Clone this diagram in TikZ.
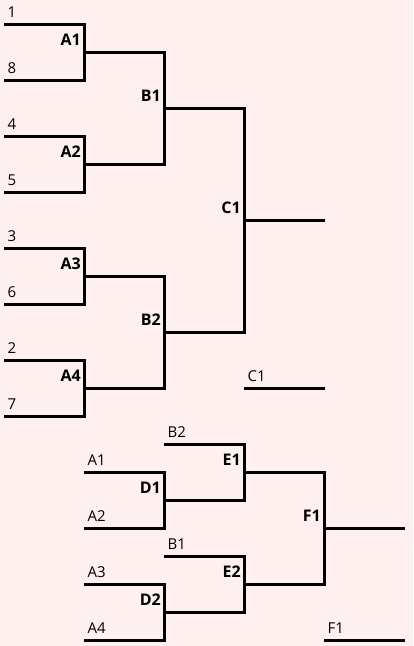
\documentclass[tikz,border=0pt]{standalone}
\usepackage{fontspec}
\setmainfont{Open Sans}
\usepackage{tikz}
\usetikzlibrary{positioning}
\definecolor{bgpink}{HTML}{FFF0F0}
\tikzset{
  seed/.style={font=\fontsize{15}{17}\selectfont, inner sep=0pt, anchor=base west, xshift=3.5pt, yshift=7pt},
  match/.style={font=\fontsize{16}{18}\selectfont\bfseries, inner sep=0pt, anchor=base east, xshift=-3pt, yshift=7pt},
  bracket/.style={line width=3pt, line join=miter}
}
\begin{document}
\begin{tikzpicture}[x=1pt, y=-1pt]

  %% Background
  \fill[bgpink] (0,0) rectangle (413,646);
  \useasboundingbox (0,0) rectangle (413,646);

  %% ── Upper bracket ────────────────────────────────────────────
  %% Seed line starts with their numbers
  \foreach \y/\n in {24/1, 80/8, 136/4, 192/5, 248/3, 304/6, 360/2, 416/7} {
    \coordinate (s\n) at (4,\y);
    \node[seed] (s\n-lab) at (s\n) {\n};
  }
  %% Match junctions with bold labels
  \foreach \x/\y/\m in {84/52/A1, 84/164/A2, 84/276/A3, 84/388/A4,
                        164/108/B1, 164/332/B2, 244/220/C1} {
    \coordinate (\m) at (\x,\y);
    \node[match] (\m-lab) at (\m) {\m};
  }
  %% First round
  \draw[bracket] (s1) -| (A1) |- (s8);
  \draw[bracket] (s4) -| (A2) |- (s5);
  \draw[bracket] (s3) -| (A3) |- (s6);
  \draw[bracket] (s2) -| (A4) |- (s7);
  %% Second round and final
  \draw[bracket] (A1) -| (B1) |- (A2);
  \draw[bracket] (A3) -| (B2) |- (A4);
  \draw[bracket] (B1) -| (C1) |- (B2);
  \coordinate (C1-end) at (325,220);
  \draw[bracket] (C1) -- (C1-end);

  %% Winner slot
  \coordinate (wC1) at (244,388);
  \coordinate (wC1-end) at (325,388);
  \node[seed] (wC1-lab) at (wC1) {C1};
  \draw[bracket] (wC1) -- (wC1-end);

  %% ── Lower bracket ────────────────────────────────────────────
  \foreach \x/\y/\n in {84/472/A1, 84/528/A2, 84/584/A3, 84/640/A4,
                        164/444/B2, 164/556/B1} {
    \coordinate (q\n) at (\x,\y);
    \node[seed] (q\n-lab) at (q\n) {\n};
  }
  \foreach \x/\y/\m in {164/500/D1, 164/612/D2, 244/472/E1, 244/584/E2, 324/528/F1} {
    \coordinate (\m) at (\x,\y);
    \node[match] (\m-lab) at (\m) {\m};
  }
  \draw[bracket] (qA1) -| (D1) |- (qA2);
  \draw[bracket] (qA3) -| (D2) |- (qA4);
  \draw[bracket] (qB2) -| (E1) |- (D1);
  \draw[bracket] (qB1) -| (E2) |- (D2);
  \draw[bracket] (E1) -| (F1) |- (E2);
  \coordinate (F1-end) at (405,528);
  \draw[bracket] (F1) -- (F1-end);

  %% Winner slot
  \coordinate (wF1) at (324,640);
  \coordinate (wF1-end) at (405,640);
  \node[seed] (wF1-lab) at (wF1) {F1};
  \draw[bracket] (wF1) -- (wF1-end);

\end{tikzpicture}
\end{document}
